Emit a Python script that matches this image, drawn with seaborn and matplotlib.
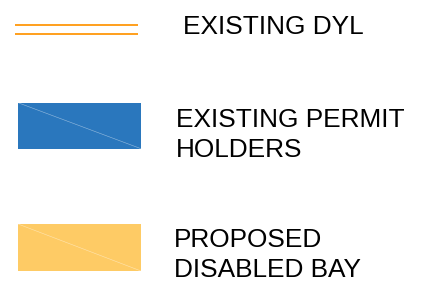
import matplotlib
matplotlib.use("Agg")
import matplotlib.pyplot as plt
import seaborn as sns
from matplotlib.patches import Rectangle

sns.set_theme(style="white")
plt.rcParams['font.family'] = ['Liberation Sans', 'DejaVu Sans']

# Legend content
labels = [["EXISTING DYL"], ["EXISTING PERMIT", "HOLDERS"], ["PROPOSED", "DISABLED BAY"]]
kinds = ["double_line", "box", "box"]
colors = ["#FF9F1C", "#2A77BD", "#FECB65"]

# layout (pixel coordinates)
sym_x0, sym_x1 = 15, 138
box_x0, box_x1 = 18, 141
line_ys = [25.3, 34.3]
box_tops = [None, 102.7, 224.0]
box_bottoms = [None, 148.7, 271.0]
text_x = [183, 176, 174]
baselines = [[34], [127.3, 156.7], [246.8, 277]]

fig = plt.figure(figsize=(4.29, 2.93), dpi=100)
ax = fig.add_axes([0, 0, 1, 1])
ax.set_xlim(0, 429)
ax.set_ylim(293, 0)
ax.axis("off")

for i, kind in enumerate(kinds):
    if kind == "double_line":
        for y in line_ys:
            ax.plot([sym_x0, sym_x1], [y, y], color=colors[i], lw=1.4, solid_capstyle="butt")
    else:
        t, b = box_tops[i], box_bottoms[i]
        ax.add_patch(Rectangle((box_x0, t), box_x1 - box_x0, b - t, facecolor=colors[i], edgecolor="none"))
        ax.plot([box_x0, box_x1], [t, b], color="white", lw=0.4, alpha=0.5)
    for line, yb in zip(labels[i], baselines[i]):
        ax.text(text_x[i], yb, line, fontsize=18.9, color="black", va="baseline", ha="left")

fig.savefig("out.png", dpi=100)
